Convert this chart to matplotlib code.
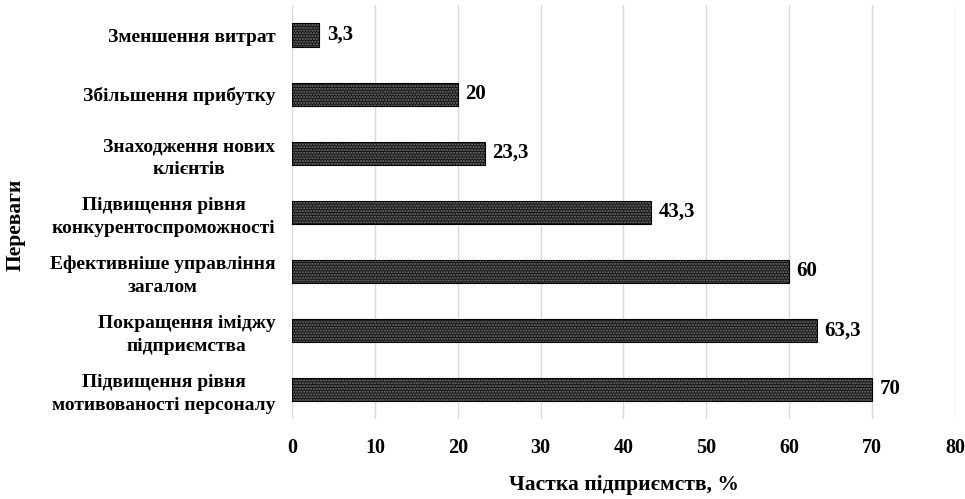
import matplotlib
matplotlib.use('Agg')
import numpy as np
import matplotlib.pyplot as plt

plt.rcParams['font.family'] = ['Liberation Serif', 'DejaVu Serif']
plt.rcParams['font.weight'] = 'bold'

categories = ['Підвищення рівня\nмотивованості персоналу',
              'Покращення іміджу\nпідприємства',
              'Ефективніше управління\nзагалом',
              'Підвищення рівня\nконкурентоспроможності',
              'Знаходження нових\nклієнтів',
              'Збільшення прибутку',
              'Зменшення витрат']
values = [70, 63.3, 60, 43.3, 23.3, 20, 3.3]
value_labels = ['70', '63,3', '60', '43,3', '23,3', '20', '3,3']

fig = plt.figure(figsize=(9.65, 4.99), dpi=100)
ax = fig.add_axes([0.3026, 0.161, 0.687, 0.828])

y = np.arange(len(categories))
# dark bars with a fine dotted fill, black outline on top
ax.barh(y, values, height=0.39, color='#141414', edgecolor='#7a7a7a',
        hatch='......', linewidth=0, zorder=3)
ax.barh(y, values, height=0.39, fill=False, edgecolor='black',
        linewidth=0.8, zorder=4)
for yi, v, lab in zip(y, values, value_labels):
    ax.text(v + 0.9, yi, lab, va='center', ha='left', fontsize=15,
            fontweight='bold')

ax.set_xlim(0, 80)
ax.set_ylim(-0.5, len(categories) - 0.5)
ax.set_xticks(np.arange(0, 81, 10))
ax.set_yticks(y)
ax.set_yticklabels(categories, fontsize=14, fontweight='bold', ha='right',
                   multialignment='center', linespacing=1.45)
ax.tick_params(axis='y', length=0, pad=12)
ax.tick_params(axis='x', length=0, labelsize=14.5, pad=14)
ax.xaxis.grid(True, color='#d9d9d9', linewidth=1, zorder=0)
for s in ax.spines.values():
    s.set_visible(False)

ax.set_xlabel('Частка підприємств, %', fontsize=15.5, fontweight='bold')
ax.xaxis.set_label_coords(0.5, -0.137)
fig.text(0.016, 0.55, 'Переваги', rotation=90, va='center', ha='center',
         fontsize=15.5, fontweight='bold')

fig.savefig('out.png', dpi=100)
